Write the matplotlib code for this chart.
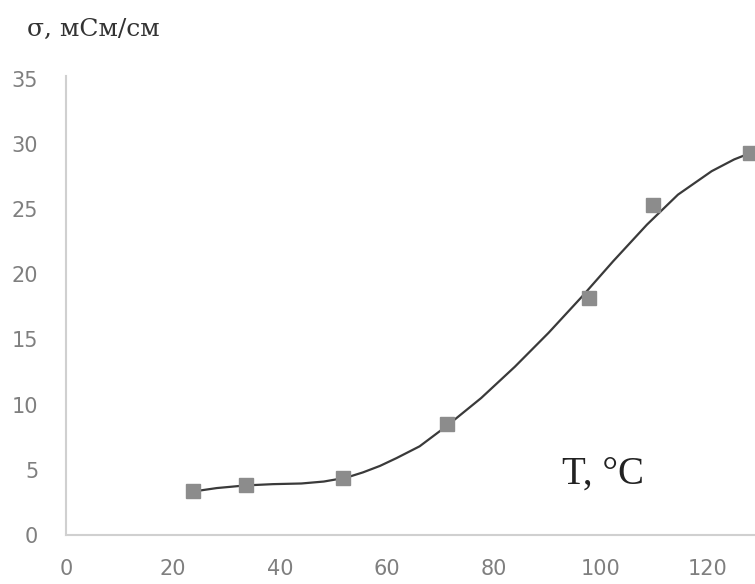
import numpy as np
import matplotlib.pyplot as plt

# measured points
T_pts = [23.7, 33.6, 51.8, 71.2, 97.8, 109.7, 127.9]
sigma_pts = [3.4, 3.8, 4.4, 8.5, 18.2, 25.3, 29.3]

# smooth trend curve
T_line = [24.0, 28.2, 33.5, 38.7, 44.0, 48.2, 52.4, 55.5, 58.7, 61.8, 66.1,
          71.3, 77.6, 83.9, 90.2, 96.5, 102.3, 108.6, 114.4, 120.7, 124.9, 128.6]
sigma_line = [3.35, 3.6, 3.8, 3.9, 3.95, 4.1, 4.4, 4.8, 5.3, 5.9, 6.8, 8.4,
              10.5, 12.9, 15.5, 18.3, 21.0, 23.8, 26.1, 27.9, 28.8, 29.4]

xticks = [0, 20, 40, 60, 80, 100, 120]
yticks = [0, 5, 10, 15, 20, 25, 30, 35]

fig = plt.figure(figsize=(7.55, 5.84), dpi=100)
ax = fig.add_axes([66 / 755, 0.0839, 1 - 66 / 755, 0.786])

ax.plot(T_line, sigma_line, color="#3a3a3a", lw=1.6, zorder=2)
ax.plot(T_pts, sigma_pts, ls="none", marker="s", ms=10, color="#8c8c8c",
        zorder=3)

ax.set_xlim(0, 128.8)
ax.set_ylim(0, 35.2)
ax.set_xticks(xticks)
ax.set_yticks(yticks)
ax.tick_params(length=0, labelsize=15, labelcolor="#7f7f7f")
ax.tick_params(axis="x", pad=17)
ax.tick_params(axis="y", pad=20)

for s in ["top", "right"]:
    ax.spines[s].set_visible(False)
for s in ["left", "bottom"]:
    ax.spines[s].set_color("#d0d0d0")
    ax.spines[s].set_linewidth(1.5)

fig.text(0.036, 0.949, "σ, мСм/см", family="DejaVu Serif", fontsize=18,
         color="#333333", va="center")
ax.text(100.4, 4.7, "T, °C", family="Liberation Serif", fontsize=28,
        color="#222222", va="center", ha="center")

plt.savefig("out.png", dpi=100)
